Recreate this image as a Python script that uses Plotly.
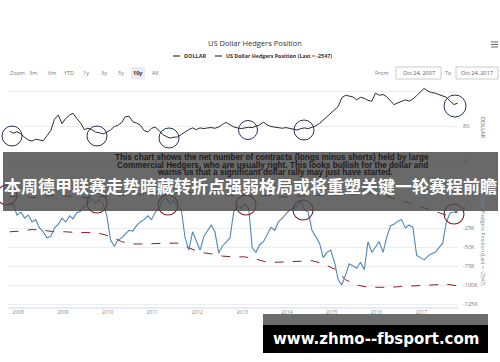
import plotly.graph_objects as go
import pandas as pd

# ---------------- data ----------------
month_dates = [pd.Timestamp(2007, 10, 24) + pd.DateOffset(months=i) for i in range(121)]

dollar = [77.0, 76.0, 76.8, 75.5, 73.5, 72.0, 71.3, 72.4, 72.0, 71.5,
          74.5, 77.5, 84.0, 86.5, 81.5, 84.5, 86.5, 87.5, 84.5, 82.0,
          78.0, 78.8, 78.0, 76.6, 76.2, 75.5, 76.5, 77.8, 79.8, 80.5,
          82.0, 85.5, 85.8, 82.6, 81.8, 80.7, 77.5, 76.6, 78.8, 79.4,
          77.5, 75.2, 74.0, 73.1, 73.6, 73.7, 75.2, 76.8, 78.0, 79.0,
          78.0, 79.0, 78.6, 79.0, 79.2, 78.8, 79.5, 81.0, 82.2, 80.8,
          79.6, 79.0, 78.6, 79.0, 79.4, 79.2, 79.8, 80.8, 82.4, 80.8,
          79.8, 79.4, 79.0, 78.8, 79.2, 78.6, 78.2, 77.8, 78.6, 79.0,
          78.6, 79.4, 80.2, 81.6, 83.6, 85.6, 87.8, 89.6, 91.5, 96.5,
          98.0, 97.5, 97.0, 95.3, 96.8, 96.2, 95.0, 94.5, 99.2, 98.0,
          98.4, 97.2, 94.5, 92.5, 93.6, 94.4, 95.3, 94.6, 95.8, 97.8,
          99.9, 102.0, 100.4, 99.6, 99.2, 98.4, 97.6, 96.8, 94.6, 92.6,
          93.4]

hedgers_k = [8, 5, -8, -4, -12, -8, -17, -14, -25, -30,
             -38, -36, -25, -20, -12, -17, -9, -13, -5, -3,
             4, 8, 13, 8, 12, 7, -8, -41, -49, -41,
             -38, -33, -28, -29, -22, -17, -14, -9, -14, -4,
             1, 12, 14, 7, 11, 3, -1, -38, -54, -30,
             -43, -54, -36, -28, -21, -30, -58, -49, -43, -38,
             -4, 5, 1, 7, 0, -51, -57, -47, -43, -33,
             -24, -28, -17, -12, -7, -1, 1, 3, 11, -1,
             -4, -28, -36, -45, -64, -57, -54, -70, -93, -100,
             -87, -72, -75, -78, -70, -80, -43, -57, -50, -43,
             -57, -38, -22, -20, -16, -14, -25, -21, -24, -61,
             -64, -67, -62, -59, -57, -51, -45, -17, -5, -4,
             -2.547]
hedgers = [v * 1000 for v in hedgers_k]

quarter_dates = [pd.Timestamp(2007, 10, 24) + pd.DateOffset(months=3 * i) for i in range(41)]
red_band_k = [-30, -29, -27, -28, -30, -30, -31, -31, -32, -36,
              -43, -46, -46, -45, -45, -45, -51, -57, -59, -62,
              -63, -63, -66, -70, -70, -69, -68, -68, -72, -79,
              -93, -100, -103, -103, -103, -102, -101, -100, -99, -99,
              -101]
dark_band_k = [16, 17, 15, 16, 18, 17, 16, 15, 16, 17,
               18, 19, 20, 21, 22, 22, 22, 21, 20, 19,
               18, 18, 17, 18, 16, 16, 17, 18, 18, 18,
               19, 20, 21, 21, 15, 11, 6, 2, -3, -8,
               -4]
red_band = [v * 1000 for v in red_band_k]
dark_band = [v * 1000 for v in dark_band_k]

year_ticks = [pd.Timestamp(y, 1, 1) for y in range(2008, 2018)]
year_labels = [str(y) for y in range(2008, 2018)]
hedger_ticks = [0, -25000, -50000, -75000, -100000, -125000]
hedger_labels = ["0", "-25K", "-50K", "-75K", "-100K", "-125K"]
dollar_ticks = [60, 80, 100]
dollar_labels = ["60", "80", ""]

W, H = 500, 362
def px(x):
    return x / W
def py(y):
    return 1 - y / H

fig = go.Figure()
fig.add_trace(go.Scatter(x=month_dates, y=dollar, mode="lines", name="DOLLAR",
                         line=dict(color="#2b2b2b", width=1), yaxis="y"))
fig.add_trace(go.Scatter(x=quarter_dates, y=dark_band, mode="lines",
                         line=dict(color="#2a2a2a", width=0.9, dash="dash"), yaxis="y2"))
fig.add_trace(go.Scatter(x=quarter_dates, y=red_band, mode="lines",
                         line=dict(color="#8b1e2b", width=1, dash="dash"), yaxis="y2"))
fig.add_trace(go.Scatter(x=month_dates, y=hedgers, mode="lines", name="US Dollar Hedgers Position",
                         line=dict(color="#4f86b8", width=1.1), yaxis="y2"))

shapes = []
shapes.append(dict(type="line", xref="paper", yref="paper", x0=px(8), x1=px(458), y0=py(308), y1=py(308),
                   line=dict(color="#ccd6eb", width=1)))
for cx, cy, r in [(12, 136, 10), (97, 136, 10), (169, 138, 10), (248, 130, 9.5), (304, 130, 10), (455, 106, 11)]:
    shapes.append(dict(type="circle", xref="paper", yref="paper", x0=px(cx - r), x1=px(cx + r),
                       y0=py(cy + r), y1=py(cy - r), line=dict(color="#26315e", width=1)))
for cx, cy, r in [(7, 195, 10), (97, 203, 10), (168, 205, 10), (246, 205, 10), (303, 210, 10), (454, 214, 10)]:
    shapes.append(dict(type="circle", xref="paper", yref="paper", x0=px(cx - r), x1=px(cx + r),
                       y0=py(cy + r), y1=py(cy - r), line=dict(color="#7d1a22", width=1.1)))
shapes.append(dict(type="rect", xref="paper", yref="paper", x0=px(3), x1=px(498), y0=py(211), y1=py(152),
                   fillcolor="rgba(72,72,72,0.82)", line=dict(width=0), layer="above"))
shapes.append(dict(type="rect", xref="paper", yref="paper", x0=px(131), x1=px(145), y0=py(79), y1=py(67),
                   fillcolor="#e6ebf5", line=dict(width=0), layer="below"))
for x0, x1 in [(396, 441), (456, 498)]:
    shapes.append(dict(type="rect", xref="paper", yref="paper", x0=px(x0), x1=px(x1), y0=py(79), y1=py(67),
                       fillcolor="rgba(0,0,0,0)", line=dict(color="#cccccc", width=1)))
for x0 in [173, 215]:
    shapes.append(dict(type="line", xref="paper", yref="paper", x0=px(x0), x1=px(x0 + 7), y0=py(56), y1=py(56),
                       line=dict(color="#333333", width=1.2)))
for yy in [42, 44.5, 47]:
    shapes.append(dict(type="line", xref="paper", yref="paper", x0=px(491), x1=px(498), y0=py(yy), y1=py(yy),
                       line=dict(color="#666666", width=1)))
shapes.append(dict(type="rect", xref="paper", yref="paper", x0=px(263), x1=px(488), y0=py(325), y1=py(314),
                   fillcolor="rgba(95,95,95,0.92)", line=dict(width=0), layer="above"))
shapes.append(dict(type="rect", xref="paper", yref="paper", x0=px(263), x1=px(488), y0=py(353), y1=py(325),
                   fillcolor="#000000", line=dict(width=0), layer="above"))

ann = []
def text(x, y, s, size, color, family="Open Sans", xanchor="center", angle=0):
    ann.append(dict(x=px(x), y=py(y), xref="paper", yref="paper", text=s, showarrow=False,
                    font=dict(size=size, color=color, family=family), xanchor=xanchor, yanchor="middle",
                    textangle=angle))

text(255, 43, "US Dollar Hedgers Position", 7.5, "#333333")
text(182, 56, "<b>DOLLAR</b>", 5.5, "#333333", xanchor="left")
text(224, 56, "<b>US Dollar Hedgers Position (Last = -2547)</b>", 5.3, "#333333", xanchor="left")
for lab, cx in [("Zoom", 17), ("3m", 33), ("6m", 52), ("YTD", 68.5), ("1y", 86), ("3y", 103.5),
                ("5y", 120.5), ("10y", 138), ("All", 154.5)]:
    text(cx, 73, "<b>10y</b>" if lab == "10y" else lab, 5.5, "#333333" if lab == "10y" else "#777777")
text(382, 73, "From", 5.5, "#777777")
text(418.5, 73, "Oct 24, 2007", 5.5, "#555555")
text(448.5, 73, "To", 5.5, "#777777")
text(477, 73, "Oct 24, 2017", 5.5, "#555555")
text(483, 127, "DOLLAR", 5.5, "#666666", angle=90)
text(483, 236, "US Dollar Hedgers Position (Last = -2547)", 5.2, "#6a86a6", angle=90)

band_font = "Liberation Sans"
text(272, 157.5, "<b>This chart shows the net number of contracts (longs minus shorts) held by large</b>", 8.2, "#1c1c1c", family=band_font)
text(272, 165, "<b>Commercial Hedgers, who are usually right. This looks bullish for the dollar and</b>", 8.2, "#1c1c1c", family=band_font)
text(275, 172, "<b>warns us that a significant dollar rally may just have started.</b>", 8.2, "#1c1c1c", family=band_font)
text(250, 185, "<b>本周德甲联赛走势暗藏转折点强弱格局或将重塑关键一轮赛程前瞻</b>", 17, "#ffffff", family="Noto Sans CJK SC")
text(376, 339, "<b>www.zhmo--fbsport.com</b>", 15, "#ffffff", family="DejaVu Sans")

fig.update_layout(
    width=W, height=H, autosize=False,
    margin=dict(l=0, r=0, t=0, b=0),
    paper_bgcolor="white", plot_bgcolor="white",
    showlegend=False,
    shapes=shapes, annotations=ann,
    xaxis=dict(domain=[px(8), px(458)], range=["2007-10-11", "2017-10-27"], type="date",
               anchor="free", position=py(308), showgrid=False, zeroline=False, showline=False,
               tickvals=year_ticks, ticktext=year_labels, ticks="",
               tickfont=dict(size=5, color="#888888", family="Open Sans")),
    yaxis=dict(domain=[0, 1], range=[-57.09, 153.37], side="right", anchor="x",
               tickvals=dollar_ticks, ticktext=dollar_labels, showgrid=True, gridcolor="#ededed",
               gridwidth=1, zeroline=False, showline=False, ticks="", ticklabelstandoff=4,
               tickfont=dict(size=5.5, color="#777777", family="Open Sans")),
    yaxis2=dict(domain=[0, 1], range=[-201316, 275000], side="right", anchor="x", overlaying="y",
                tickvals=hedger_ticks, ticktext=hedger_labels, showgrid=True, gridcolor="#ededed",
                gridwidth=1, zeroline=False, showline=False, ticks="", ticklabelstandoff=4,
                tickfont=dict(size=5.5, color="#777777", family="Open Sans")),
)

fig.write_html("out.html")
